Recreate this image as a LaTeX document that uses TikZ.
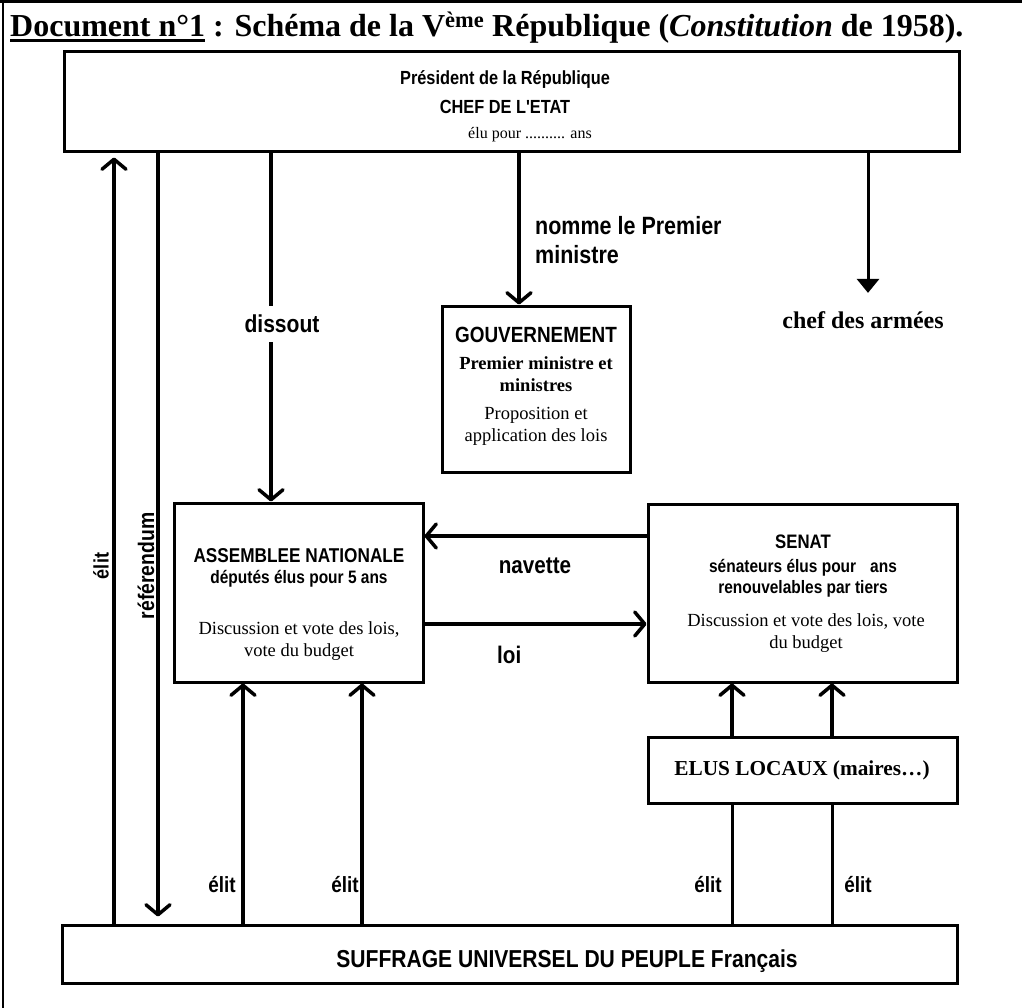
\documentclass[tikz,border=0pt]{standalone}
\usepackage{fontspec}
\setmainfont{Liberation Serif}
\newfontfamily\sfbf[FakeStretch=0.86]{Liberation Sans}
\usetikzlibrary{arrows.meta}
\newcommand\fsz[1]{\fontsize{#1}{#1}\selectfont}
\newcommand\thickul[1]{\setbox0\hbox{#1}\rlap{\rule[-5pt]{\wd0}{2.6pt}}\box0\relax}
\begin{document}
\begin{tikzpicture}[x=1pt,y=-1pt,
  box/.style={draw, line width=3pt, inner sep=0, rectangle},
  sbt/.style={inner sep=0, anchor=base, font=\sfbf\bfseries\fsz{#1}},
  srt/.style={inner sep=0, anchor=base, font=\fsz{#1}},
  srb/.style={inner sep=0, anchor=base, font=\bfseries\fsz{#1}},
  arr/.style={line width=3.5pt, -{Straight Barb[length=10pt,width=24pt,round]}},
  ln/.style={line width=3pt},
]
\useasboundingbox (0,0) rectangle (1022,1008);
% outer frame
\draw[line width=2.5pt] (0,1.5) -- (1022,1.5);
\draw[line width=2.5pt] (3,0) -- (3,1008);

% title
\node[inner sep=0, anchor=base west, font=\bfseries\fsz{32}] (title) at (10,37)
  {\thickul{Document n°1} : Schéma de la V\textsuperscript{ème} République (\textit{Constitution} de 1958).};

% boxes
\node[box, minimum width=895pt, minimum height=100pt] (pres) at (511.5,102) {};
\node[box, minimum width=188pt, minimum height=166pt] (gouv) at (536,389) {};
\node[box, minimum width=249pt, minimum height=179pt] (an) at (298.5,592.5) {};
\node[box, minimum width=309pt, minimum height=178pt] (senat) at (802.5,593) {};
\node[box, minimum width=309pt, minimum height=66pt] (elus) at (802.5,770) {};
\node[box, minimum width=895pt, minimum height=58pt] (suff) at (509.5,954) {};

% president texts
\node[sbt=19] (p1) at (505,85) {Président de la République};
\node[sbt=19] (p2) at (505,114) {CHEF DE L'ETAT};
\node[srt=16, anchor=base west] (p3) at (468,139) {élu pour .......... ans};

% gouvernement texts
\node[sbt=22] (g1) at (536,342) {GOUVERNEMENT};
\node[srb=18.5] (g2) at (536,369) {Premier ministre et};
\node[srb=18.5] (g3) at (536,391) {ministres};
\node[srt=18.5] (g4) at (536,419) {Proposition et};
\node[srt=18.5] (g5) at (536,441) {application des lois};

% assemblee texts
\node[sbt=20] (a1) at (299,562) {ASSEMBLEE NATIONALE};
\node[sbt=18] (a2) at (299,583) {députés élus pour 5 ans};
\node[srt=18.5] (a3) at (299,634) {Discussion et vote des lois,};
\node[srt=18.5] (a4) at (299,656) {vote du budget};

% senat texts
\node[sbt=19.5] (s1) at (803,548) {SENAT};
\node[sbt=18] (s2) at (803,572) {sénateurs élus pour\hspace{14pt}ans};
\node[sbt=18] (s3) at (803,593) {renouvelables par tiers};
\node[srt=18.5] (s4) at (806,626) {Discussion et vote des lois, vote};
\node[srt=18.5] (s5) at (806,648) {du budget};

% elus, suffrage texts
\node[srb=21.3] (e1) at (802,775) {ELUS LOCAUX (maires…)};
\node[sbt=24.5] (u1) at (567,967) {SUFFRAGE UNIVERSEL DU PEUPLE Français};

% other labels
\node[sbt=25, anchor=base west] (n1) at (535,235) {nomme le Premier};
\node[sbt=25, anchor=base west] (n2) at (535,263) {ministre};
\node[srb=24] (armees) at (863,328) {chef des armées};
\node[sbt=24] (lnav) at (535,573) {navette};
\node[sbt=24, anchor=base west] (lloi) at (497,663) {loi};
\node[inner sep=0, rotate=90, font=\sfbf\bfseries\fsz{21}] (lelit) at (101,566) {élit};
\node[inner sep=0, rotate=90, font=\sfbf\bfseries\fsz{22.5}] (lref) at (146,566) {référendum};
\node[sbt=22] (b1) at (222,892) {élit};
\node[sbt=22] (b2) at (345,892) {élit};
\node[sbt=22] (b3) at (708,892) {élit};
\node[sbt=22] (b4) at (858,892) {élit};

% x / y reference coordinates for connectors
\coordinate (xe) at (114,0);
\coordinate (xr) at (158,0);
\coordinate (xd) at (271,0);
\coordinate (xn) at (519,0);
\coordinate (xc) at (868,0);
\coordinate (xa1) at (243,0);
\coordinate (xa2) at (362,0);
\coordinate (xs1) at (732,0);
\coordinate (xs2) at (832,0);
\coordinate (yn) at (0,536);
\coordinate (yl) at (0,624);

% connectors
\draw[arr, shorten >=4pt] (suff.north -| xe) -- (pres.south -| xe);
\draw[arr, shorten >=7pt] (pres.south -| xr) -- (suff.north -| xr);
\draw[arr] (pres.south -| xd) -- node[pos=0.49, fill=white, inner xsep=2pt, inner ysep=9pt,
   xshift=11pt, font=\sfbf\bfseries\fsz{24.5}] (ldis) {dissout} (an.north -| xd);
\draw[arr] (pres.south -| xn) -- (gouv.north -| xn);
\draw[line width=3pt, -{Triangle[length=14pt,width=22pt]}, shorten >=18pt] (pres.south -| xc) -- (armees.north -| xc);
\draw[arr] (senat.west |- yn) -- (an.east |- yn);
\draw[arr] (an.east |- yl) -- (senat.west |- yl);
\draw[arr] (suff.north -| xa1) -- (an.south -| xa1);
\draw[arr] (suff.north -| xa2) -- (an.south -| xa2);
\draw[arr] (elus.north -| xs1) -- (senat.south -| xs1);
\draw[arr] (elus.north -| xs2) -- (senat.south -| xs2);
\draw[ln] (suff.north -| xs1) -- (elus.south -| xs1);
\draw[ln] (suff.north -| xs2) -- (elus.south -| xs2);
\end{tikzpicture}
\end{document}
